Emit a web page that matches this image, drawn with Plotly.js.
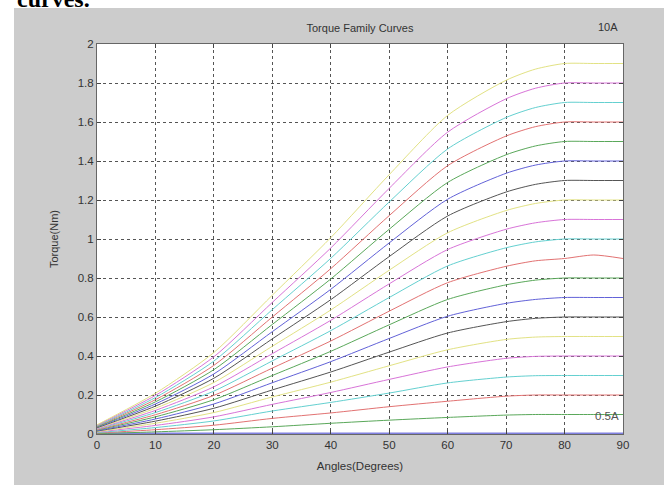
<!DOCTYPE html>
<html><head><meta charset="utf-8">
<script src="https://cdn.plot.ly/plotly-3.0.1.min.js"></script>
<style>
html,body{margin:0;padding:0;background:#fff;width:664px;height:485px;overflow:hidden;position:relative;}
#cap{position:absolute;left:17px;top:-13px;font-family:'Liberation Serif','Times New Roman',serif;font-weight:bold;font-size:24px;line-height:24px;color:#000;z-index:0;}
#chart{position:absolute;left:14px;top:8px;width:650px;height:477px;z-index:1;}
</style></head><body>
<div id="cap">curves.</div>
<div id="chart"></div>
<script>
const angles = [0,10,20,30,40,50,60,70,75,80,85,90];
const T00 = [0,0,0,0,0,0,0,0,0,0,0,0];
const T01 = [0.002,0.011,0.022,0.037,0.055,0.071,0.085,0.097,0.1,0.1,0.1,0.1];
const T02 = [0.005,0.022,0.045,0.08,0.108,0.14,0.168,0.194,0.2,0.2,0.2,0.2];
const T03 = [0.007,0.033,0.067,0.118,0.162,0.21,0.262,0.292,0.299,0.3,0.3,0.3];
const T04 = [0.01,0.044,0.088,0.152,0.213,0.28,0.344,0.388,0.398,0.4,0.4,0.4];
const T05 = [0.012,0.055,0.11,0.19,0.266,0.35,0.432,0.485,0.497,0.5,0.5,0.5];
const T06 = [0.015,0.066,0.132,0.226,0.318,0.42,0.518,0.576,0.593,0.6,0.6,0.6];
const T07 = [0.017,0.077,0.154,0.263,0.371,0.49,0.604,0.67,0.69,0.7,0.7,0.7];
const T08 = [0.02,0.088,0.176,0.3,0.424,0.56,0.69,0.765,0.789,0.8,0.8,0.8];
const T09 = [0.022,0.099,0.198,0.338,0.477,0.63,0.776,0.86,0.888,0.9,0.918,0.9];
const T10 = [0.025,0.11,0.22,0.375,0.53,0.7,0.862,0.955,0.985,1.0,1.0,1.0];
const T11 = [0.027,0.121,0.242,0.412,0.583,0.77,0.946,1.05,1.083,1.1,1.1,1.1];
const T12 = [0.03,0.132,0.264,0.45,0.636,0.84,1.032,1.146,1.182,1.2,1.2,1.2];
const T13 = [0.032,0.143,0.286,0.488,0.689,0.91,1.118,1.241,1.28,1.3,1.3,1.3];
const T14 = [0.035,0.154,0.308,0.525,0.742,0.98,1.204,1.337,1.379,1.4,1.4,1.4];
const T15 = [0.037,0.165,0.33,0.562,0.795,1.05,1.29,1.432,1.477,1.5,1.5,1.5];
const T16 = [0.04,0.176,0.352,0.6,0.848,1.12,1.376,1.528,1.576,1.6,1.6,1.6];
const T17 = [0.042,0.187,0.374,0.638,0.901,1.19,1.462,1.623,1.674,1.7,1.7,1.7];
const T18 = [0.045,0.198,0.396,0.675,0.954,1.26,1.548,1.719,1.773,1.8,1.8,1.8];
const T19 = [0.047,0.209,0.418,0.712,1.007,1.33,1.634,1.814,1.871,1.9,1.9,1.9];
const series = [T00,T01,T02,T03,T04,T05,T06,T07,T08,T09,T10,T11,T12,T13,T14,T15,T16,T17,T18,T19];
const currents = ['0A','0.5A','1A','1.5A','2A','2.5A','3A','3.5A','4A','4.5A','5A','5.5A','6A','6.5A','7A','7.5A','8A','8.5A','9A','9.5A'];
const colorOrder = ['#6262d8','#5aa85a','#e27272','#64d0d0','#d874d8','#e2e284','#555555'];
const xTicks = [0,10,20,30,40,50,60,70,80,90];
const yTicks = [0,0.2,0.4,0.6,0.8,1,1.2,1.4,1.6,1.8,2];
const titleText = 'Torque Family Curves';
const xTitle = 'Angles(Degrees)';
const yTitle = 'Torque(Nm)';
const topLabel = '10A';
const bottomLabel = '0.5A';

const FONT = 'Liberation Sans, Arial, sans-serif';
const traces = series.map((s, i) => ({
  x: angles, y: s, type: 'scatter', mode: 'lines', name: currents[i],
  line: {color: i === 0 ? '#8080e0' : colorOrder[i % 7], width: i === 0 ? 3 : 1, shape: 'spline', smoothing: 0.7},
  hoverinfo: 'skip', showlegend: false
}));

const axisCommon = {
  showgrid: true, gridcolor: '#555', griddash: 'dot', gridwidth: 1,
  showline: true, linecolor: '#666', linewidth: 1, mirror: 'ticks',
  ticks: 'inside', ticklen: 4, tickcolor: '#444', zeroline: false,
  tickfont: {family: FONT, size: 11.5, color: '#333'}
};

const layout = {
  width: 650, height: 477,
  margin: {l: 83, r: 41, t: 36, b: 51, pad: 0},
  paper_bgcolor: '#cccccc', plot_bgcolor: '#ffffff',
  font: {family: FONT, size: 11, color: '#333'},
  title: {text: titleText, font: {family: FONT, size: 11, color: '#333'}, xref: 'paper', x: 0.5, xanchor: 'center', yref: 'container', y: 1 - 20/477, yanchor: 'middle'},
  xaxis: Object.assign({}, axisCommon, {range: [0, 90], tickvals: xTicks, ticktext: xTicks.map(String),
    title: {text: xTitle, font: {family: FONT, size: 11.5, color: '#333'}, standoff: 12}}),
  yaxis: Object.assign({}, axisCommon, {range: [0, 2], tickvals: yTicks, ticktext: yTicks.map(String),
    title: {text: yTitle, font: {family: FONT, size: 11, color: '#333'}, standoff: 16}}),
  annotations: [
    {text: topLabel, xref: 'paper', yref: 'paper', x: 0.994, y: 1.044, xanchor: 'right', yanchor: 'middle', showarrow: false, font: {family: FONT, size: 11, color: '#333'}},
    {text: bottomLabel, xref: 'x', yref: 'y', x: 89.6, y: 0.093, xanchor: 'right', yanchor: 'middle', showarrow: false, font: {family: FONT, size: 11.5, color: '#555'}}
  ]
};

Plotly.newPlot('chart', traces, layout, {staticPlot: true, displayModeBar: false});
</script>
</body></html>
